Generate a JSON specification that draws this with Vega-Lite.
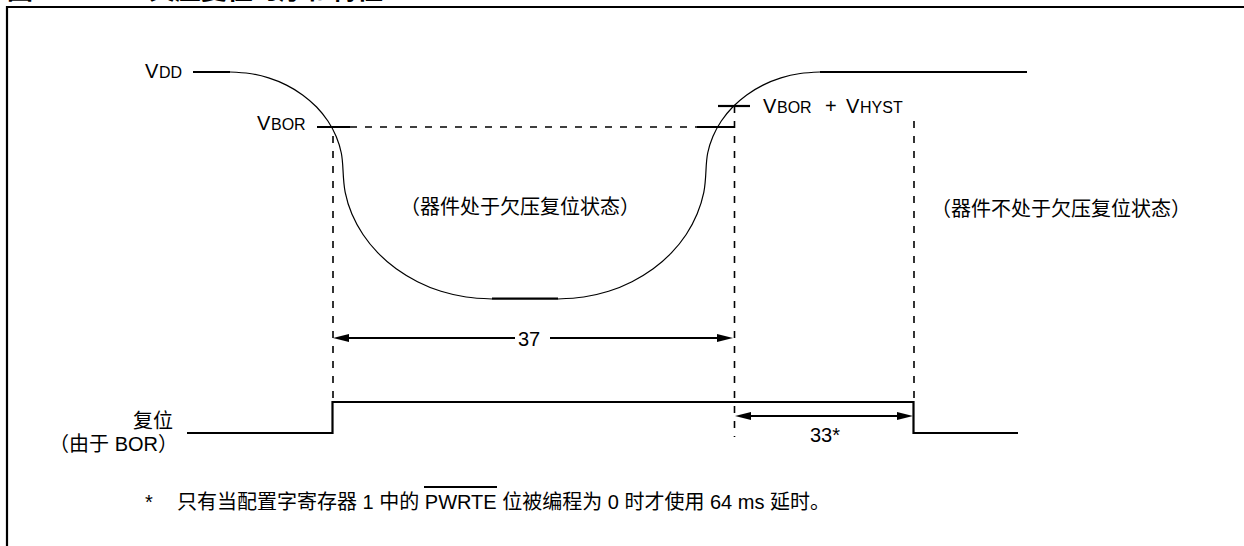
{
  "$schema": "https://vega.github.io/schema/vega-lite/v6.json",
  "width": 1244,
  "height": 546,
  "autosize": {"type": "none"},
  "padding": 0,
  "background": "white",
  "config": {"view": {"stroke": null}},
  "datasets": {
    "curve": [
      {"seg": "A", "i": 0, "x": 230, "y": 72},
      {"seg": "A", "i": 1, "x": 249.7, "y": 73.5},
      {"seg": "A", "i": 2, "x": 268.6, "y": 77.9},
      {"seg": "A", "i": 3, "x": 286.5, "y": 85.1},
      {"seg": "A", "i": 4, "x": 302.6, "y": 94.9},
      {"seg": "A", "i": 5, "x": 316.6, "y": 107},
      {"seg": "A", "i": 6, "x": 327.9, "y": 121},
      {"seg": "A", "i": 7, "x": 336.2, "y": 136.5},
      {"seg": "A", "i": 8, "x": 341.3, "y": 153},
      {"seg": "A", "i": 9, "x": 343, "y": 170},
      {"seg": "B", "i": 0, "x": 343, "y": 170},
      {"seg": "B", "i": 1, "x": 345.2, "y": 192.4},
      {"seg": "B", "i": 2, "x": 351.9, "y": 214.1},
      {"seg": "B", "i": 3, "x": 363, "y": 234.5},
      {"seg": "B", "i": 4, "x": 377.9, "y": 252.9},
      {"seg": "B", "i": 5, "x": 396.2, "y": 268.8},
      {"seg": "B", "i": 6, "x": 417.5, "y": 281.7},
      {"seg": "B", "i": 7, "x": 441, "y": 291.3},
      {"seg": "B", "i": 8, "x": 466.1, "y": 297},
      {"seg": "B", "i": 9, "x": 492, "y": 299},
      {"seg": "C", "i": 0, "x": 558, "y": 299},
      {"seg": "C", "i": 1, "x": 583.7, "y": 297},
      {"seg": "C", "i": 2, "x": 608.6, "y": 291.3},
      {"seg": "C", "i": 3, "x": 632, "y": 281.7},
      {"seg": "C", "i": 4, "x": 653.2, "y": 268.8},
      {"seg": "C", "i": 5, "x": 671.4, "y": 252.9},
      {"seg": "C", "i": 6, "x": 686.2, "y": 234.5},
      {"seg": "C", "i": 7, "x": 697.1, "y": 214.1},
      {"seg": "C", "i": 8, "x": 703.8, "y": 192.4},
      {"seg": "C", "i": 9, "x": 706, "y": 170},
      {"seg": "D", "i": 0, "x": 706, "y": 170},
      {"seg": "D", "i": 1, "x": 707.7, "y": 153},
      {"seg": "D", "i": 2, "x": 712.9, "y": 136.5},
      {"seg": "D", "i": 3, "x": 721.3, "y": 121},
      {"seg": "D", "i": 4, "x": 732.7, "y": 107},
      {"seg": "D", "i": 5, "x": 746.7, "y": 94.9},
      {"seg": "D", "i": 6, "x": 763, "y": 85.1},
      {"seg": "D", "i": 7, "x": 781, "y": 77.9},
      {"seg": "D", "i": 8, "x": 800.2, "y": 73.5},
      {"seg": "D", "i": 9, "x": 820, "y": 72}
    ],
    "thick": [
      {"path": "vddL", "i": 0, "x": 193, "y": 72},
      {"path": "vddL", "i": 1, "x": 230, "y": 72},
      {"path": "vddR", "i": 0, "x": 820, "y": 72},
      {"path": "vddR", "i": 1, "x": 1027, "y": 72},
      {"path": "floor", "i": 0, "x": 492, "y": 298.7},
      {"path": "floor", "i": 1, "x": 558, "y": 298.7},
      {"path": "reset", "i": 0, "x": 187, "y": 433},
      {"path": "reset", "i": 1, "x": 332.5, "y": 433},
      {"path": "reset", "i": 2, "x": 332.5, "y": 402},
      {"path": "reset", "i": 3, "x": 913.5, "y": 402},
      {"path": "reset", "i": 4, "x": 913.5, "y": 433},
      {"path": "reset", "i": 5, "x": 1018, "y": 433},
      {"path": "vborL", "i": 0, "x": 317, "y": 127},
      {"path": "vborL", "i": 1, "x": 350, "y": 127},
      {"path": "vborR", "i": 0, "x": 697, "y": 127},
      {"path": "vborR", "i": 1, "x": 734, "y": 127},
      {"path": "vhyst", "i": 0, "x": 718, "y": 106},
      {"path": "vhyst", "i": 1, "x": 750, "y": 106},
      {"path": "a37L", "i": 0, "x": 340, "y": 338},
      {"path": "a37L", "i": 1, "x": 515, "y": 338},
      {"path": "a37R", "i": 0, "x": 550, "y": 338},
      {"path": "a37R", "i": 1, "x": 726, "y": 338},
      {"path": "a33", "i": 0, "x": 742, "y": 416},
      {"path": "a33", "i": 1, "x": 906, "y": 416},
      {"path": "frame", "i": 0, "x": 7, "y": 546},
      {"path": "frame", "i": 1, "x": 7, "y": 7},
      {"path": "frame", "i": 2, "x": 1244, "y": 7},
      {"path": "overline", "i": 0, "x": 424, "y": 487},
      {"path": "overline", "i": 1, "x": 497, "y": 487}
    ],
    "dashed": [
      {"path": "vbor", "i": 0, "x": 350, "y": 127},
      {"path": "vbor", "i": 1, "x": 697, "y": 127},
      {"path": "v1", "i": 0, "x": 333, "y": 136},
      {"path": "v1", "i": 1, "x": 333, "y": 402},
      {"path": "v2", "i": 0, "x": 734.5, "y": 106},
      {"path": "v2", "i": 1, "x": 734.5, "y": 437},
      {"path": "v3", "i": 0, "x": 914, "y": 121},
      {"path": "v3", "i": 1, "x": 914, "y": 402}
    ],
    "arrows": [
      {"x": 333, "y": 338, "dir": "L"},
      {"x": 733, "y": 338, "dir": "R"},
      {"x": 735, "y": 416, "dir": "L"},
      {"x": 913, "y": 416, "dir": "R"}
    ],
    "big": [
      {"x": 145, "y": 78, "t": "V"},
      {"x": 257, "y": 130, "t": "V"},
      {"x": 763, "y": 113, "t": "V"},
      {"x": 825, "y": 113, "t": "+"},
      {"x": 846, "y": 113, "t": "V"},
      {"x": 518, "y": 346, "t": "37"},
      {"x": 810, "y": 442, "t": "33*"}
    ],
    "sub": [
      {"x": 159, "y": 78, "t": "DD"},
      {"x": 271, "y": 130, "t": "BOR"},
      {"x": 777, "y": 113, "t": "BOR"},
      {"x": 860, "y": 113, "t": "HYST"}
    ],
    "center": [
      {"x": 520, "y": 207.5, "t": "（器件处于欠压复位状态）"},
      {"x": 1061, "y": 210, "t": "（器件不处于欠压复位状态）"}
    ],
    "right": [
      {"x": 173, "y": 422, "t": "复位"},
      {"x": 178, "y": 445, "t": "（由于 BOR）"}
    ],
    "left": [
      {"x": 145, "y": 503, "t": "*"},
      {"x": 177, "y": 503, "t": "只有当配置字寄存器 1 中的 PWRTE 位被编程为 0 时才使用 64 ms 延时。"}
    ],
    "title": [
      {"x": 7, "y": -1, "t": "图 14-7:"},
      {"x": 149, "y": -1, "t": "欠压复位时序和特性"}
    ]
  },
  "encoding": {
    "x": {"field": "x", "type": "quantitative", "scale": {"domain": [0, 1244], "nice": false, "zero": false}, "axis": null},
    "y": {"field": "y", "type": "quantitative", "scale": {"domain": [0, 546], "nice": false, "zero": false, "reverse": true}, "axis": null}
  },
  "layer": [
    {
      "data": {"name": "dashed"},
      "mark": {"type": "line", "color": "black", "strokeWidth": 1.6, "strokeDash": [7, 8], "strokeCap": "butt"},
      "encoding": {"detail": {"field": "path"}, "order": {"field": "i"}}
    },
    {
      "data": {"name": "curve"},
      "mark": {"type": "line", "color": "black", "strokeWidth": 1.2, "interpolate": "catmull-rom"},
      "encoding": {"detail": {"field": "seg"}, "order": {"field": "i"}}
    },
    {
      "data": {"name": "thick"},
      "mark": {"type": "line", "color": "black", "strokeWidth": 2.2, "strokeCap": "butt", "strokeJoin": "miter"},
      "encoding": {"detail": {"field": "path"}, "order": {"field": "i"}}
    },
    {
      "data": {"name": "arrows"},
      "transform": [{"filter": "datum.dir == 'L'"}],
      "mark": {"type": "point", "shape": "M 0 0 L 2 -0.5 L 2 0.5 Z", "size": 256, "filled": true, "color": "black", "opacity": 1, "strokeWidth": 0}
    },
    {
      "data": {"name": "arrows"},
      "transform": [{"filter": "datum.dir == 'R'"}],
      "mark": {"type": "point", "shape": "M 0 0 L -2 -0.5 L -2 0.5 Z", "size": 256, "filled": true, "color": "black", "opacity": 1, "strokeWidth": 0}
    },
    {
      "data": {"name": "big"},
      "mark": {"type": "text", "align": "left", "baseline": "alphabetic", "font": "Liberation Sans", "fontSize": 20, "color": "black"},
      "encoding": {"text": {"field": "t"}}
    },
    {
      "data": {"name": "sub"},
      "mark": {"type": "text", "align": "left", "baseline": "alphabetic", "font": "Liberation Sans", "fontSize": 16, "color": "black"},
      "encoding": {"text": {"field": "t"}}
    },
    {
      "data": {"name": "center"},
      "mark": {"type": "text", "align": "center", "baseline": "middle", "font": "Liberation Sans, Noto Sans CJK SC", "fontSize": 20, "color": "black"},
      "encoding": {"text": {"field": "t"}}
    },
    {
      "data": {"name": "right"},
      "mark": {"type": "text", "align": "right", "baseline": "middle", "font": "Liberation Sans, Noto Sans CJK SC", "fontSize": 20, "color": "black"},
      "encoding": {"text": {"field": "t"}}
    },
    {
      "data": {"name": "left"},
      "mark": {"type": "text", "align": "left", "baseline": "middle", "font": "Liberation Sans, Noto Sans CJK SC", "fontSize": 20, "color": "black"},
      "encoding": {"text": {"field": "t"}}
    },
    {
      "data": {"name": "title"},
      "mark": {"type": "text", "align": "left", "baseline": "alphabetic", "font": "Liberation Sans, Noto Sans CJK SC", "fontSize": 26, "fontWeight": "bold", "color": "black"},
      "encoding": {"text": {"field": "t"}}
    }
  ]
}
